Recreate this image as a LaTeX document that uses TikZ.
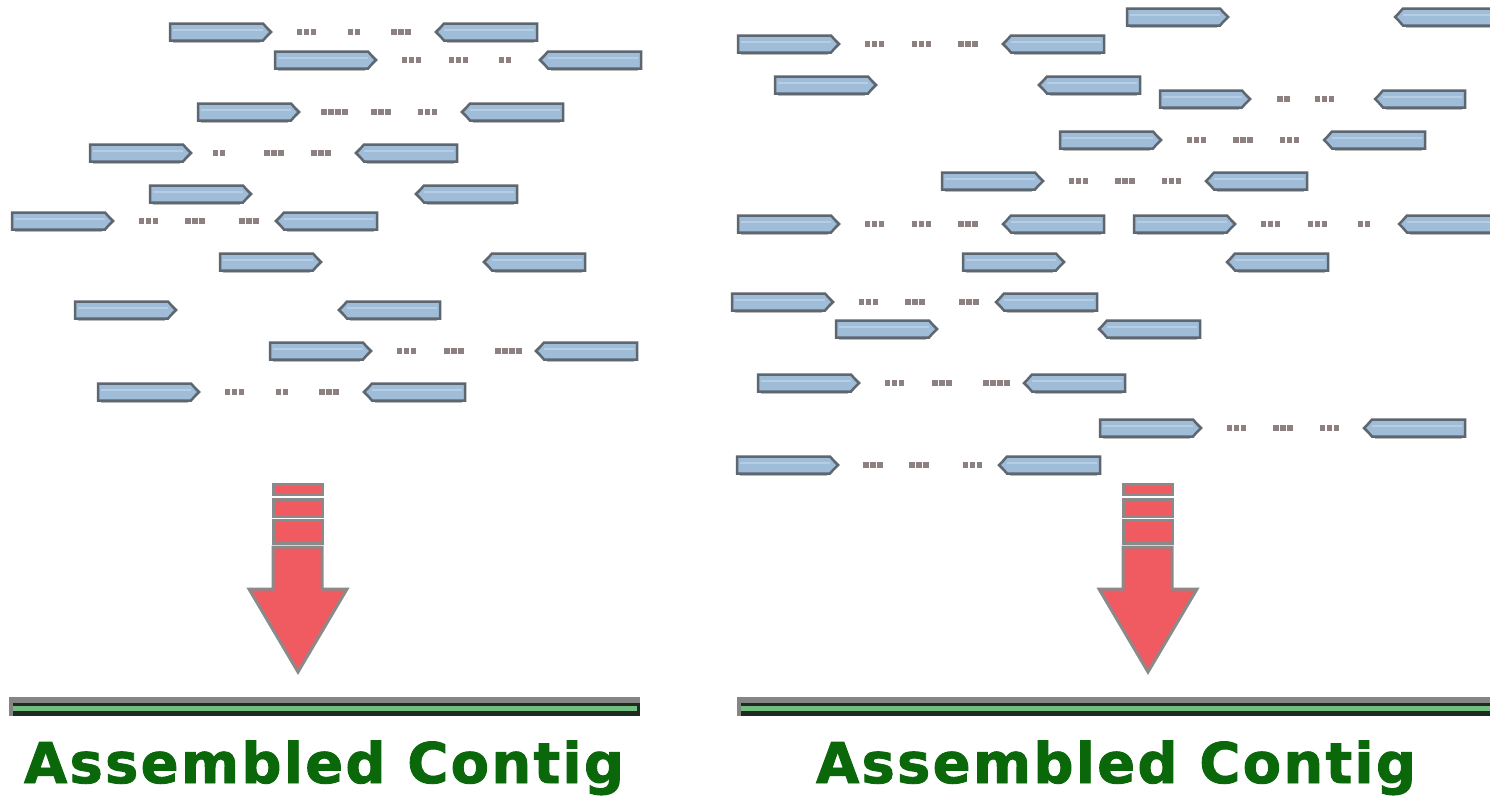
\documentclass[tikz,border=0pt]{standalone}
\usepackage{fontspec}
\newfontfamily\contigfont[LetterSpace=4.0, FakeBold=1.6]{DejaVu Sans}

\definecolor{readfill}{HTML}{9FBDD9}
\definecolor{readhigh}{HTML}{B6CDE3}
\definecolor{readedge}{HTML}{5E666F}
\definecolor{readshade}{HTML}{B9B9B9}
\definecolor{matedot}{HTML}{8C8080}
\definecolor{arrowred}{HTML}{EF5B61}
\definecolor{arrowedge}{HTML}{8A8A8A}
\definecolor{contiggray}{HTML}{858585}
\definecolor{contigdark}{HTML}{1D2B21}
\definecolor{contiglight}{HTML}{74BD81}
\definecolor{contiggreen}{HTML}{0A670A}

\tikzset{
  readbody/.style={fill=readfill, draw=readedge, line width=2.5pt, line join=miter},
  readhi/.style={draw=readhigh, line width=2pt},
  readshadow/.style={fill=readshade},
  matedots/.style={fill=matedot},
  arrowpart/.style={fill=arrowred, draw=arrowedge, line width=3pt, line join=miter},
  contiglabel/.style={font=\contigfont\bfseries\fontsize{56}{60}\selectfont,
    text=contiggreen, inner sep=0pt, anchor=base},
}

% forward read: left x, centre y, body length
\newcommand\fwdread[3]{%
  \fill[readshadow] (#1+3,#2+8) rectangle (#1+#3-3,#2+11);
  \draw[readbody] (#1,#2-8.5) -- (#1+#3,#2-8.5) -- (#1+#3+4,#2-4) -- (#1+#3+8,#2) -- (#1+#3+4,#2+4) -- (#1+#3,#2+8.5) -- (#1,#2+8.5) -- cycle;
  \draw[readhi] (#1+3,#2-2) -- (#1+#3,#2-2);
}
% reverse read: right x, centre y, body length
\newcommand\revread[3]{%
  \fill[readshadow] (#1-3,#2+8) rectangle (#1-#3+3,#2+11);
  \draw[readbody] (#1,#2-8.5) -- (#1-#3,#2-8.5) -- (#1-#3-4,#2-4) -- (#1-#3-8,#2) -- (#1-#3-4,#2+4) -- (#1-#3,#2+8.5) -- (#1,#2+8.5) -- cycle;
  \draw[readhi] (#1-3,#2-2) -- (#1-#3,#2-2);
}
% mate pair: [length] y, forward left x, reverse right x, dot groups (fraction/count)
\newcommand\readpair[5][93]{%
  \fwdread{#3}{#2}{#1}
  \revread{#4}{#2}{#1}
  \pgfmathsetmacro\gapa{#3+#1+12}
  \pgfmathsetmacro\gapb{#4-#1-12}
  \foreach \f/\n in {#5}{
    \pgfmathsetmacro\cx{\gapa+(\gapb-\gapa)*\f}
    \foreach \k in {1,...,\n}{
      \fill[matedots] (\cx-3.5*\n+1+7*\k-7,#2-3) rectangle ++(5.5,6);
    }
  }
}
% merge arrow centred on x
\newcommand\mergearrow[1]{%
  \draw[arrowpart] (#1-25,484) rectangle (#1+24,494);
  \draw[arrowpart] (#1-25,499) rectangle (#1+24,516);
  \draw[arrowpart] (#1-25,520) rectangle (#1+24,543);
  \draw[arrowpart] (#1-25,547) -- (#1+24,547) -- (#1+24,589) -- (#1+49,589)
    -- (#1,672) -- (#1-49,589) -- (#1-25,589) -- cycle;
}
% assembled contig bar
\newcommand\contigbar[2]{%
  \fill[contiggray] (#1,697) rectangle (#2,716);
  \fill[contigdark] (#1+4,703) rectangle (#2,716);
  \fill[contiglight] (#1+4,705.5) rectangle (#2-3,710.5);
}

\begin{document}
\begin{tikzpicture}[x=1pt, y=-1pt]
  \useasboundingbox (0,0) rectangle (1490,795);
  \fill[white] (0,0) rectangle (1490,795);
  \clip (0,0) rectangle (1490,795);

  % left panel reads
  \readpair{32}{170}{537}{.2/3,.5/2,.8/3}
  \readpair{60}{275}{641}{.2/3,.5/3,.8/2}
  \readpair{112}{198}{563}{.2/4,.5/3,.8/3}
  \readpair{153}{90}{457}{.15/2,.5/3,.8/3}
  \fwdread{150}{194}{93}  \revread{517}{194}{93}
  \readpair{221}{12}{377}{.2/3,.5/3,.85/3}
  \fwdread{220}{262}{93}  \revread{585}{262}{93}
  \fwdread{75}{310}{93}   \revread{440}{310}{93}
  \readpair{351}{270}{637}{.2/3,.5/3,.85/4}
  \readpair{392}{98}{465}{.2/3,.5/2,.8/3}

  % right panel reads
  \fwdread{1127}{17}{93}  \revread{1496}{17}{93}
  \readpair{44}{738}{1104}{.2/3,.5/3,.8/3}
  \fwdread{775}{85}{93}   \revread{1140}{85}{93}
  \readpair[82]{99}{1160}{1465}{.25/2,.6/3}
  \readpair{140}{1060}{1425}{.2/3,.5/3,.8/3}
  \readpair{181}{942}{1307}{.2/3,.5/3,.8/3}
  \readpair{224}{738}{1104}{.2/3,.5/3,.8/3}
  \readpair{224}{1134}{1500}{.2/3,.5/3,.8/2}
  \fwdread{963}{262}{93}  \revread{1328}{262}{93}
  \readpair{302}{732}{1097}{.2/3,.5/3,.85/3}
  \fwdread{836}{329}{93}  \revread{1200}{329}{93}
  \readpair{383}{758}{1125}{.2/3,.5/3,.85/4}
  \readpair{428}{1100}{1465}{.2/3,.5/3,.8/3}
  \readpair{465}{737}{1100}{.2/3,.5/3,.85/3}

  % merge arrows
  \mergearrow{298}
  \mergearrow{1148}

  % contigs and their labels
  \contigbar{9}{640}
  \contigbar{737}{1495}
  \node[contiglabel] (leftcontig) at (324,783) {Assembled Contig};
  \node[contiglabel] (rightcontig) at (1116,783) {Assembled Contig};
\end{tikzpicture}
\end{document}
